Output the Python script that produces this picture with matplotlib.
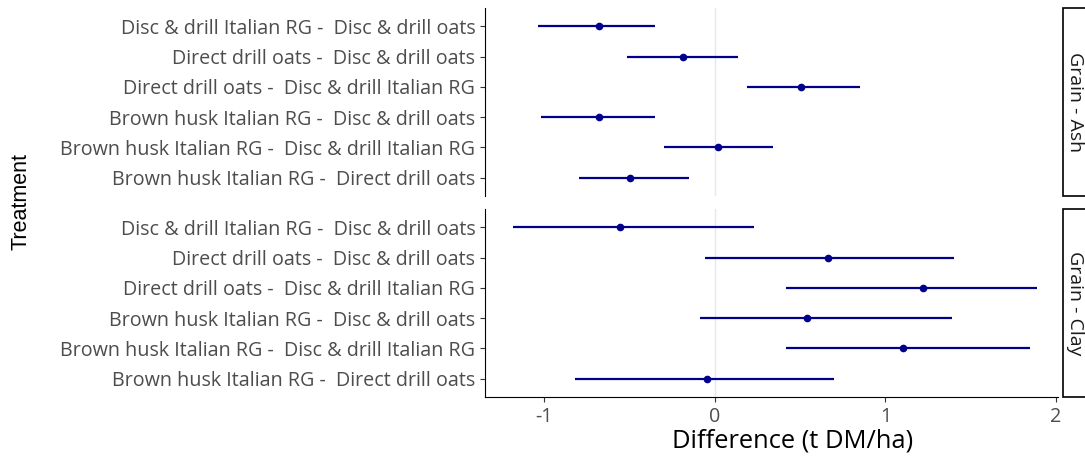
import matplotlib.pyplot as plt
from matplotlib.patches import Rectangle

plt.rcParams['font.family'] = ['Open Sans', 'DejaVu Sans']
plt.rcParams['axes.unicode_minus'] = False

contrasts = [
    "Disc & drill Italian RG -  Disc & drill oats",
    "Direct drill oats -  Disc & drill oats",
    "Direct drill oats -  Disc & drill Italian RG",
    "Brown husk Italian RG -  Disc & drill oats",
    "Brown husk Italian RG -  Disc & drill Italian RG",
    "Brown husk Italian RG -  Direct drill oats",
]
facets = ["Grain - Ash", "Grain - Clay"]

ash_est = [-0.68, -0.19, 0.505, -0.68, 0.02, -0.50]
ash_lo = [-1.04, -0.515, 0.19, -1.02, -0.30, -0.80]
ash_hi = [-0.35, 0.137, 0.85, -0.35, 0.34, -0.15]

clay_est = [-0.56, 0.664, 1.218, 0.537, 1.105, -0.045]
clay_lo = [-1.185, -0.058, 0.414, -0.09, 0.419, -0.82]
clay_hi = [0.226, 1.404, 1.89, 1.39, 1.85, 0.70]

W, H = 1085, 457
fig = plt.figure(figsize=(W / 100, H / 100), dpi=100)

def px(x0, y0, x1, y1):
    return [x0 / W, 1 - y1 / H, (x1 - x0) / W, (y1 - y0) / H]

panels = [
    (px(485, 8, 1058, 196), ash_est, ash_lo, ash_hi, facets[0]),
    (px(485, 209, 1058, 397), clay_est, clay_lo, clay_hi, facets[1]),
]

for i, (rect, est, lo, hi, name) in enumerate(panels):
    ax = fig.add_axes(rect)
    n = len(contrasts)
    ys = list(range(n))[::-1]
    ax.axvline(0, color="#E6E6EE", lw=1, zorder=0)
    ax.hlines(ys, lo, hi, color="#00008B", lw=1.6, zorder=2)
    ax.plot(est, ys, "o", color="#00008B", ms=4.5, zorder=3)
    ax.set_ylim(-0.6, n - 1 + 0.6)
    ax.set_xlim(-1.349, 2.012)
    ax.set_yticks(ys)
    ax.set_yticklabels(contrasts, fontsize=14.2, color="#4D4D4D")
    ax.set_xticks([-1, 0, 1, 2])
    for s in ["top", "right"]:
        ax.spines[s].set_visible(False)
    ax.spines["left"].set_color("black")
    ax.spines["bottom"].set_color("black")
    ax.tick_params(axis="both", length=3.5, color="#333333", width=0.8)
    ax.tick_params(axis="x", labelsize=14.2, labelcolor="#4D4D4D")
    if i == 0:
        ax.spines["bottom"].set_visible(False)
        ax.tick_params(axis="x", bottom=False, labelbottom=False)
    else:
        ax.set_xlabel("Difference (t DM/ha)", fontsize=18.4, color="black")
        ax.xaxis.set_label_coords((793 - 485) / (1058 - 485), -0.17)
    # strip on the right
    fig.patches.append(Rectangle((1063 / W, rect[1]), 40 / W, rect[3], transform=fig.transFigure,
                                 facecolor="white", edgecolor="black", lw=1.2))
    fig.text(1075 / W, rect[1] + rect[3] / 2, name, rotation=-90, ha="center", va="center",
             fontsize=14, color="#1A1A1A")

fig.text(21 / W, 1 - 201 / H, "Treatment", rotation=90, ha="center", va="center",
         fontsize=15.5, color="black", family=["Liberation Sans", "DejaVu Sans"])

fig.savefig("out.png", dpi=100, facecolor="white")
